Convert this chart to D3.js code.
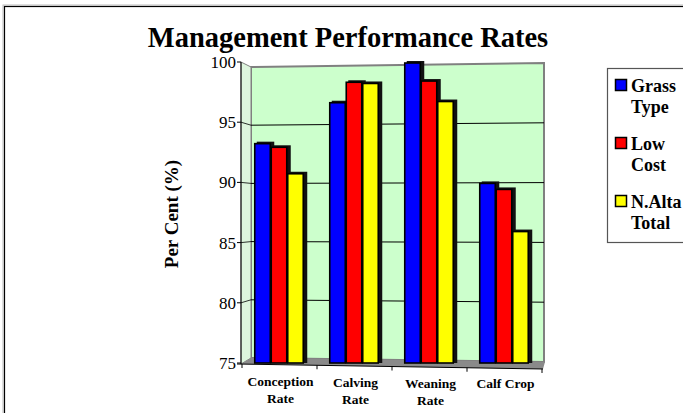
<!DOCTYPE html>
<html>
<head>
<meta charset="utf-8">
<script src="https://cdn.jsdelivr.net/npm/d3@7"></script>
<style>
  body { margin: 0; background: #fff; }
  svg { display: block; font-family: "Liberation Serif", "Times New Roman", serif; }
</style>
</head>
<body>
<div id="chart"></div>
<script>
// Chart data
const categories = ["Conception Rate", "Calving Rate", "Weaning Rate", "Calf Crop"];
const categoryLines = [["Conception", "Rate"], ["Calving", "Rate"], ["Weaning", "Rate"], ["Calf Crop"]];
const seriesNames = ["Grass Type", "Low Cost", "N.Alta Total"];
const seriesLines = [["Grass", "Type"], ["Low", "Cost"], ["N.Alta", "Total"]];
const seriesColors = ["#0000FF", "#FF0000", "#FFFF00"];
const grassType = [93.3, 96.7, 100.0, 90.0];
const lowCost = [93.0, 98.4, 98.5, 89.5];
const nAltaTotal = [90.8, 98.3, 96.8, 86.0];
const yTicks = [75, 80, 85, 90, 95, 100];

const seriesValues = [grassType, lowCost, nAltaTotal];

const width = 683, height = 413;

const svg = d3.select("#chart").append("svg")
    .attr("width", width)
    .attr("height", height);

// outer frame
svg.append("rect")
    .attr("x", 3).attr("y", 5).attr("width", 700).attr("height", 420)
    .attr("fill", "none").attr("stroke", "#bbb").attr("stroke-width", 1);
svg.append("rect")
    .attr("x", 4.5).attr("y", 6.5).attr("width", 700).attr("height", 420)
    .attr("fill", "none").attr("stroke", "#000").attr("stroke-width", 1.2);

// Scales
const axisX = 241;
const wallX0 = 251, wallX1 = 544;
const y = d3.scaleLinear().domain([75, 100]).range([363, 62]);
const wallLeft = d3.scaleLinear().domain([75, 100]).range([358, 67]);
const wallRight = d3.scaleLinear().domain([75, 100]).range([362, 63]);

const x0 = d3.scaleBand().domain(categories).range([242, 542]).paddingInner(0.34).paddingOuter(0.17);
const x1 = d3.scaleBand().domain(seriesNames).range([0, x0.bandwidth()]);

// back wall
svg.append("polygon")
    .attr("points", [[wallX0, wallLeft(100)], [wallX1, wallRight(100)], [wallX1, wallRight(75)], [wallX0, wallLeft(75)]].join(" "))
    .attr("fill", "#CCFFCC").attr("stroke", "#808080").attr("stroke-width", 2);

// side wall
svg.append("polygon")
    .attr("points", [[axisX, y(100)], [wallX0, wallLeft(100)], [wallX0, wallLeft(75)], [axisX, y(75) + 1]].join(" "))
    .attr("fill", "#DDF5DD").attr("stroke", "#808080").attr("stroke-width", 1);

// grid lines
const grid = yTicks.filter(d => d > 75 && d < 100);
svg.selectAll(".grid").data(grid).enter().append("line")
    .attr("x1", wallX0).attr("x2", wallX1)
    .attr("y1", d => wallLeft(d)).attr("y2", d => wallRight(d))
    .attr("stroke", "#000").attr("stroke-width", 1);
svg.selectAll(".sgrid").data(grid).enter().append("line")
    .attr("x1", axisX).attr("x2", wallX0)
    .attr("y1", d => y(d)).attr("y2", d => wallLeft(d))
    .attr("stroke", "#000").attr("stroke-width", 0.8);

// floor
svg.append("polygon")
    .attr("points", [[wallX0, wallLeft(75)], [wallX1 + 1, wallRight(75)], [543, 369], [axisX, 364]].join(" "))
    .attr("fill", "#8a8a8a");
svg.append("line")
    .attr("x1", 237).attr("x2", 543).attr("y1", 364).attr("y2", 369)
    .attr("stroke", "#000").attr("stroke-width", 1);

// category ticks
const bounds = categories.map(c => x0(c) - x0.step() * x0.paddingInner() / 2);
bounds.push(bounds[bounds.length - 1] + x0.step());
svg.selectAll(".ctick").data(bounds).enter().append("line")
    .attr("x1", d => d).attr("x2", d => d)
    .attr("y1", d => 364 + (d - axisX) * 5 / 302)
    .attr("y2", d => 368 + (d - axisX) * 5 / 302)
    .attr("stroke", "#000");

// value axis
svg.append("line")
    .attr("x1", axisX).attr("x2", axisX).attr("y1", y(100)).attr("y2", y(75) + 1)
    .attr("stroke", "#000");
svg.selectAll(".ytick").data(yTicks).enter().append("line")
    .attr("x1", axisX - 4).attr("x2", axisX)
    .attr("y1", d => y(d)).attr("y2", d => y(d))
    .attr("stroke", "#000");
svg.selectAll(".ylab").data(yTicks).enter().append("text")
    .attr("x", axisX - 5).attr("y", d => y(d) + 6)
    .attr("text-anchor", "end")
    .attr("font-size", 17)
    .text(d => d);

// bars
const barData = [];
categories.forEach((c, i) => {
    seriesNames.forEach((s, j) => {
        barData.push({ cat: c, series: s, value: seriesValues[j][i], color: seriesColors[j] });
    });
});

const bw = x1.bandwidth();
const bars = svg.selectAll(".bar").data(barData).enter().append("g");
bars.append("rect")
    .attr("x", d => x0(d.cat) + x1(d.series) + 2)
    .attr("y", d => y(d.value) - 1)
    .attr("width", bw + 1)
    .attr("height", d => y(75) - y(d.value) + 1)
    .attr("fill", "#111");
bars.append("rect")
    .attr("x", d => x0(d.cat) + x1(d.series))
    .attr("y", d => y(d.value) + 1)
    .attr("width", bw - 1)
    .attr("height", d => y(75) - y(d.value) - 1)
    .attr("fill", d => d.color)
    .attr("stroke", "#000").attr("stroke-width", 1.6);

// category labels
const catLab = svg.selectAll(".clab").data(categories).enter().append("text")
    .attr("text-anchor", "middle")
    .attr("font-weight", "bold")
    .attr("font-size", 13.5)
    .attr("x", c => x0(c) + x0.bandwidth() / 2 + 1);
catLab.selectAll("tspan").data((c, i) => categoryLines[i].map(t => ({ t, c }))).enter().append("tspan")
    .attr("x", d => x0(d.c) + x0.bandwidth() / 2 + 1)
    .attr("y", (d, k) => 386 + k * 17 + (x0(d.c) - 250) * 3 / 300)
    .text(d => d.t);

// title
svg.append("text")
    .attr("x", 348).attr("y", 47)
    .attr("text-anchor", "middle")
    .attr("font-weight", "bold")
    .attr("font-size", 28.5)
    .text("Management Performance Rates");

// y axis title
svg.append("text")
    .attr("transform", "translate(178,214) rotate(-90)")
    .attr("text-anchor", "middle")
    .attr("font-weight", "bold")
    .attr("font-size", 19)
    .text("Per Cent (%)");

// legend
const legend = svg.append("g");
legend.append("rect")
    .attr("x", 607.5).attr("y", 68.5).attr("width", 100).attr("height", 174)
    .attr("fill", "#fff").attr("stroke", "#555").attr("stroke-width", 1.2);
const entries = legend.selectAll(".entry").data(seriesNames).enter().append("g")
    .attr("transform", (d, i) => `translate(0, ${i * 58})`);
entries.append("rect")
    .attr("x", 615.5).attr("y", 79.5).attr("width", 11).attr("height", 11)
    .attr("fill", (d, i) => seriesColors[i])
    .attr("stroke", "#000").attr("stroke-width", 1.5);
entries.append("text")
    .attr("font-weight", "bold").attr("font-size", 18)
    .selectAll("tspan").data((d, i) => seriesLines[i]).enter().append("tspan")
    .attr("x", 631)
    .attr("y", (t, k) => 92 + k * 21)
    .text(t => t);
</script>
</body>
</html>
